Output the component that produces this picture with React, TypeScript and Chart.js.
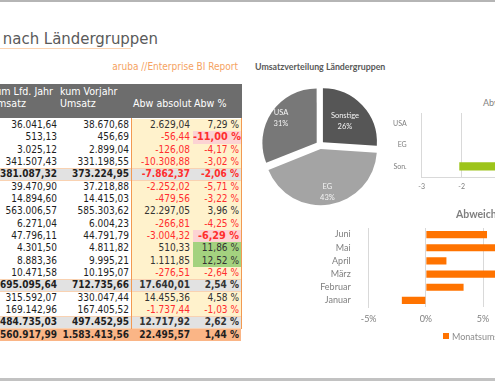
import React, { useEffect, useRef } from "react";
import { Chart, registerables } from "chart.js";

Chart.register(...registerables);

// ---------- table data ----------
const rowTypes = ["d", "d", "d", "d", "s", "d", "d", "d", "d", "d", "d", "d", "d", "s", "d", "d", "s", "t"];
const kumLfdJahr = [36041.64, 513.13, 3025.12, 341507.43, 381087.32, 39470.9, 14894.6, 563006.57, 6271.04, 47796.11, 4301.5, 8883.36, 10471.58, 695095.64, 315592.07, 169142.96, 484735.03, 1560917.99];
const kumVorjahr = [38670.68, 456.69, 2899.04, 331198.55, 373224.95, 37218.88, 14415.03, 585303.62, 6004.23, 44791.79, 4811.82, 9995.21, 10195.07, 712735.66, 330047.44, 167405.52, 497452.95, 1583413.56];
const abwAbsolut = [2629.04, -56.44, -126.08, -10308.88, -7862.37, -2252.02, -479.56, 22297.05, -266.81, -3004.32, 510.33, 1111.85, -276.51, 17640.01, 14455.36, -1737.44, 12717.92, 22495.57];
const abwProzent = [7.29, -11.0, -4.17, -3.02, -2.06, -5.71, -3.22, 3.96, -4.25, -6.29, 11.86, 12.52, -2.64, 2.54, 4.58, -1.03, 2.62, 1.44];

// ---------- chart data ----------
const pieLabels = ["Sonstige", "EG", "USA"];
const pieShares = [26, 43, 31];
const groupLabels = ["USA", "EG", "Son."];
const groupAbw = [2.62, 2.54, -2.06];
const monthLabels = ["Juni", "Mai", "April", "März", "Februar", "Januar"];
const monthAbw = [5.35, 7.8, 1.8, 7.1, 3.3, -2.1];

const pieColors = ["#565656", "#a4a4a4", "#787878"];
const pieLabelRadius = [0.56, 0.8, 0.8];

const TABLE_FONT = '"DejaVu Sans Condensed", "DejaVu Sans", sans-serif';
const CHART_FONT = "Lato, 'Open Sans', sans-serif";

function fmt(v: number): string {
  const neg = v < 0;
  const [i, d] = Math.abs(v).toFixed(2).split(".");
  const ii = i.replace(/\B(?=(\d{3})+(?!\d))/g, ".");
  return (neg ? "-" : "") + ii + "," + d;
}

const ROW_TOP = 119;
const ROW_H = 12.33;
const cols = [
  { l: -70, r: 60, pr: 3 },
  { l: 60, r: 131, pr: 2 },
  { l: 131, r: 193, pr: 3 },
  { l: 193, r: 241, pr: 2 },
];

const pieLabelPlugin = {
  id: "pieLabels",
  afterDatasetsDraw(chart: any) {
    const ctx = chart.ctx;
    const meta = chart.getDatasetMeta(0);
    ctx.save();
    ctx.fillStyle = "#f4f4f4";
    ctx.textAlign = "center";
    ctx.textBaseline = "middle";
    ctx.font = `7.5px ${CHART_FONT}`;
    meta.data.forEach((arc: any, i: number) => {
      const p = arc.getProps(["x", "y", "startAngle", "endAngle", "outerRadius"], true);
      const mid = (p.startAngle + p.endAngle) / 2;
      const r = p.outerRadius * pieLabelRadius[i] + 4;
      const x = p.x + Math.cos(mid) * r;
      const y = p.y + Math.sin(mid) * r;
      ctx.fillText(String(chart.data.labels[i]), x, y - 5.5);
      ctx.fillText(chart.data.datasets[0].data[i] + "%", x, y + 5.5);
    });
    ctx.restore();
  },
};

function Table() {
  const cells: any[] = [];
  rowTypes.forEach((t, i) => {
    const top = ROW_TOP + i * ROW_H;
    const vals = [fmt(kumLfdJahr[i]), fmt(kumVorjahr[i]), fmt(abwAbsolut[i]), fmt(abwProzent[i]) + " %"];
    cols.forEach((c, j) => {
      let bg = "transparent";
      if (t === "s") bg = "#e2e2e2";
      else if (t === "t") bg = "#fab586";
      else if (j >= 2) bg = "#fff2cc";
      let special = false;
      if (t === "d" && j === 3) {
        if (abwProzent[i] <= -6) { bg = "#fcd3d3"; special = true; }
        else if (abwProzent[i] >= 10) bg = "#a4d27f";
      }
      let color = "#1e1e1e";
      if (j >= 2 && t !== "t") {
        const v = j === 2 ? abwAbsolut[i] : abwProzent[i];
        color = v < 0 ? "#ff2e2e" : "#333333";
      }
      const bold = t === "s" || t === "t" || special;
      cells.push(
        <div
          key={`c${i}-${j}`}
          style={{
            position: "absolute",
            left: c.l,
            top,
            width: c.r - c.l,
            height: ROW_H,
            background: bg,
            color,
            fontWeight: bold ? "bold" : "normal",
            fontSize: special ? 10.8 : 10,
            lineHeight: `${ROW_H}px`,
            textAlign: "right",
            paddingRight: c.pr,
            boxSizing: "border-box",
            whiteSpace: "nowrap",
            overflow: "visible",
          }}
        >
          {vals[j]}
        </div>
      );
    });
    if (t === "s") {
      cells.push(<div key={`lt${i}`} style={{ position: "absolute", left: -70, width: 311, top: top - 0.5, height: 1, background: "#f9d2b2" }} />);
      cells.push(<div key={`lb${i}`} style={{ position: "absolute", left: -70, width: 311, top: top + ROW_H - 0.5, height: 1, background: "#f9d2b2" }} />);
    }
  });
  const hdr = { color: "#fff", fontSize: 10.6, lineHeight: "12px", whiteSpace: "nowrap" as const };
  return (
    <div style={{ fontFamily: TABLE_FONT, fontStretch: "condensed" }}>
      <div style={{ position: "absolute", left: -70, top: 84, width: 311.5, height: 34, background: "#6d6d6d" }} />
      <div style={{ ...hdr, position: "absolute", right: 495 - 53, top: 85, textAlign: "left" }}>
        <div>kum Lfd. Jahr</div>
        <div>Umsatz</div>
      </div>
      <div style={{ ...hdr, position: "absolute", left: 60, top: 85 }}>
        <div>kum Vorjahr</div>
        <div>Umsatz</div>
      </div>
      <div style={{ ...hdr, position: "absolute", left: 133, top: 97 }}>Abw absolut</div>
      <div style={{ ...hdr, position: "absolute", left: 194, top: 97 }}>Abw %</div>
      {cells}
      <div style={{ position: "absolute", left: 130.5, top: 118, width: 1.5, height: 211, background: "#f29a52" }} />
      <div style={{ position: "absolute", left: 240.5, top: 118, width: 1.5, height: 211, background: "#f29a52" }} />
    </div>
  );
}

export default function App() {
  const pieRef = useRef<HTMLCanvasElement>(null);
  const grpRef = useRef<HTMLCanvasElement>(null);
  const monRef = useRef<HTMLCanvasElement>(null);

  useEffect(() => {
    const pie = new Chart(pieRef.current!, {
      type: "pie",
      data: {
        labels: pieLabels,
        datasets: [{ data: pieShares, backgroundColor: pieColors, borderWidth: 0, offset: 16, hoverOffset: 0 } as any],
      },
      options: {
        responsive: false,
        animation: false,
        plugins: { legend: { display: false }, tooltip: { enabled: false } },
      },
      plugins: [pieLabelPlugin as any],
    });

    const tickColor = "#808080";
    const fitY = (w: number) => (s: any) => {
      s.width = w;
      s.paddingTop = 0;
      s.paddingBottom = 0;
    };
    const grp = new Chart(grpRef.current!, {
      type: "bar",
      data: {
        labels: groupLabels,
        datasets: [{ data: groupAbw, backgroundColor: "#9dc41a", barPercentage: 0.38, categoryPercentage: 1 }],
      },
      options: {
        indexAxis: "y",
        responsive: false,
        animation: false,
        layout: { padding: { top: 8, right: 8.3, left: 0, bottom: 0 } },
        plugins: { legend: { display: false }, tooltip: { enabled: false } },
        scales: {
          x: {
            min: -3,
            max: 3,
            ticks: { stepSize: 1, color: tickColor, font: { family: CHART_FONT, size: 7 }, padding: 6 },
            grid: { color: "#d9d9d9", drawTicks: false },
            border: { color: "#d9d9d9" },
            afterFit: (s: any) => { s.height = 18; },
          },
          y: {
            ticks: { color: tickColor, font: { family: CHART_FONT, size: 7 }, padding: 7, autoSkip: false },
            grid: { display: false },
            border: { color: "#d9d9d9" },
            afterFit: fitY(51.7),
          },
        },
      } as any,
    });

    const mon = new Chart(monRef.current!, {
      type: "bar",
      data: {
        labels: monthLabels,
        datasets: [{ label: "Monatsumsatz", data: monthAbw, backgroundColor: "#ff7300", barPercentage: 0.55, categoryPercentage: 1 }],
      },
      options: {
        indexAxis: "y",
        responsive: false,
        animation: false,
        layout: { padding: { top: 8, right: 8.8, left: 0, bottom: 0 } },
        plugins: { legend: { display: false }, tooltip: { enabled: false } },
        scales: {
          x: {
            min: -5,
            max: 10,
            ticks: { stepSize: 5, color: tickColor, font: { family: CHART_FONT, size: 9 }, padding: 7, callback: (v: any) => v + "%" },
            grid: { color: "#d9d9d9", drawTicks: false },
            border: { display: false },
            afterFit: (s: any) => { s.height = 23; },
          },
          y: {
            ticks: { color: tickColor, font: { family: CHART_FONT, size: 9 }, padding: 10, autoSkip: false },
            grid: { display: false },
            border: { color: "#d9d9d9" },
            afterFit: fitY(68.7),
          },
        },
      } as any,
    });

    return () => {
      pie.destroy();
      grp.destroy();
      mon.destroy();
    };
  }, []);

  return (
    <div style={{ position: "fixed", left: 0, top: 0, width: 495, height: 381, overflow: "hidden", background: "#fff" }}>
      <div style={{ position: "absolute", left: 0, top: 0, width: 495, height: 2, background: "#b5b5b5" }} />
      <div style={{ position: "absolute", left: 0, top: 378, width: 495, height: 3, background: "#c2c2c2" }} />

      <div style={{ position: "absolute", right: 495 - 158, top: 29, fontFamily: TABLE_FONT, fontStretch: "condensed", fontSize: 16.6, color: "#5a5a5a", whiteSpace: "nowrap", lineHeight: "20px" }}>
        Umsatz nach Ländergruppen
      </div>
      <div style={{ position: "absolute", left: 0, top: 48, width: 131, height: 1, background: "#fcd3b0" }} />
      <div style={{ position: "absolute", right: 495 - 238, top: 60, fontFamily: TABLE_FONT, fontStretch: "condensed", fontSize: 10, color: "#f5a262", whiteSpace: "nowrap", lineHeight: "14px" }}>
        aruba //Enterprise BI Report
      </div>

      <Table />

      <div style={{ position: "absolute", left: 255, top: 61, fontFamily: CHART_FONT, fontWeight: "bold", fontSize: 8.8, color: "#595959", whiteSpace: "nowrap", lineHeight: "12px" }}>
        Umsatzverteilung Ländergruppen
      </div>
      <canvas ref={pieRef} width={124} height={124} style={{ position: "absolute", left: 258, top: 83 }} />

      <div style={{ position: "absolute", left: 483, top: 96, fontFamily: CHART_FONT, fontSize: 9, color: "#7f7f7f", whiteSpace: "nowrap", lineHeight: "13px" }}>
        Abweichung Vorjahr
      </div>
      <canvas ref={grpRef} width={300} height={90} style={{ position: "absolute", left: 370, top: 105 }} />

      <div style={{ position: "absolute", left: 456, top: 207, fontFamily: CHART_FONT, fontWeight: "bold", fontSize: 10.5, color: "#7f7f7f", whiteSpace: "nowrap", lineHeight: "14px" }}>
        Abweichung Monatsumsatz
      </div>
      <canvas ref={monRef} width={256} height={110} style={{ position: "absolute", left: 300, top: 220 }} />

      <div style={{ position: "absolute", left: 443, top: 333, width: 6, height: 6, background: "#ff7300" }} />
      <div style={{ position: "absolute", left: 452, top: 330, fontFamily: CHART_FONT, fontSize: 9, color: "#8c8c8c", whiteSpace: "nowrap", lineHeight: "13px" }}>
        Monatsumsatz
      </div>
    </div>
  );
}
